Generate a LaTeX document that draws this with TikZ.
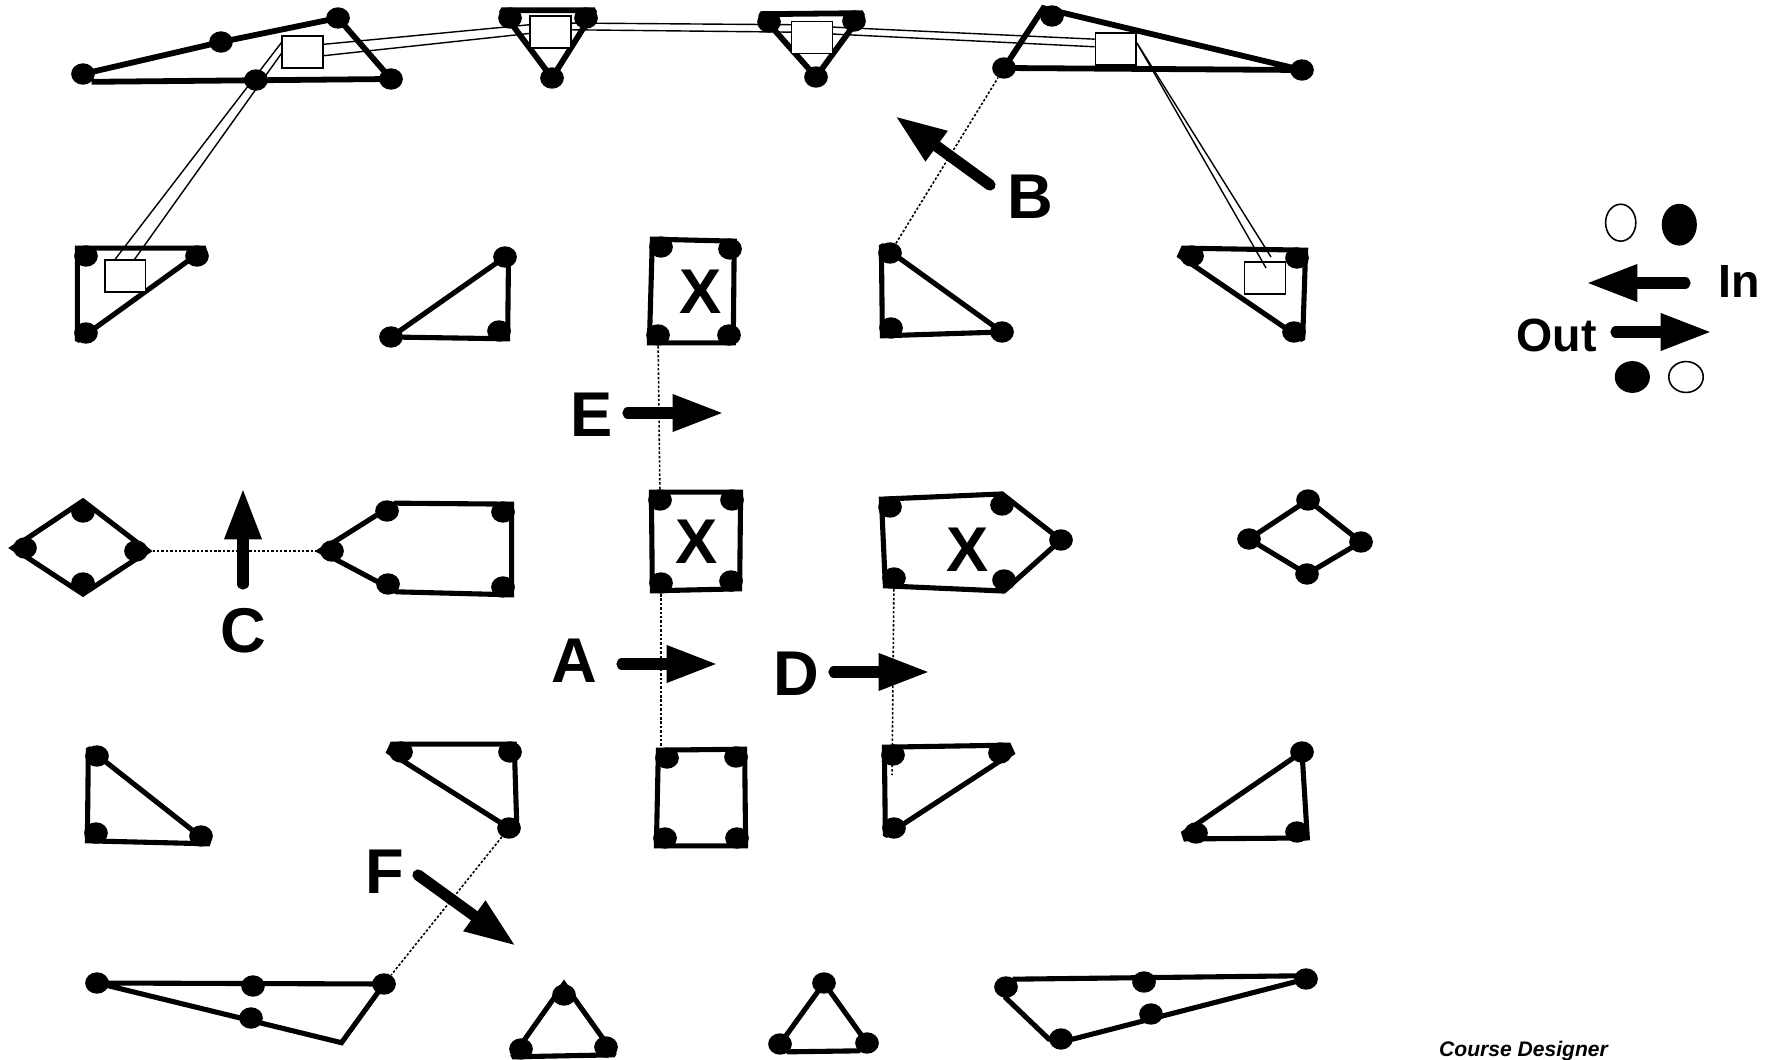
\documentclass[tikz,border=0pt]{standalone}
\usepackage{fontspec}
\setmainfont{Liberation Sans}
\usetikzlibrary{arrows.meta,shapes.geometric}
\tikzset{
	dot/.style = {ellipse, fill = black, inner sep = 0pt, minimum width = 13.5pt, minimum height = 12.2pt},
	edge/.style = {line width = 2.9pt, miter limit = 2},
	topedge/.style = {line width = 3.3pt, miter limit = 2},
	dashlink/.style = {line width = 0.9pt, dash pattern = on 1.4pt off 1.1pt},
	frame/.style = {draw, fill = white, line width = 0.8pt, inner sep = 0pt, minimum width = 23.2pt, minimum height = 18pt},
	rail/.style = {line width = 0.8pt},
	bigarrow/.style = {line width = 6.4pt, line cap = round, -{Triangle[length = 29.3pt, width = 19.6pt]}},
	bigtext/.style = {font = \fontsize{36}{36}\bfseries\selectfont, inner sep = 0pt},
	legtext/.style = {font = \fontsize{26.5}{27}\bfseries\selectfont, inner sep = 0pt},
	openmark/.style = {ellipse, draw, line width = 0.9pt, inner sep = 0pt},
	fullmark/.style = {ellipse, fill = black, inner sep = 0pt}
}
\begin{document}
\begin{tikzpicture}[x = 0.02cm, y = -0.02cm]
	\useasboundingbox (0,0) rectangle (1768,1060);
	\foreach \name/\px/\py in {
		taa/83/74, tab/221/42, tac/338/18, tad/391/79, tae/256/80,
		tba/510/18, tbb/586/18, tbc/552/78,
		tca/769/22, tcb/854/21, tcc/816/77,
		tda/1052/16, tdb/1302/70, tdc/1004/68,
		ua/86/256, ub/197/256, uc/86/333,
		va/505/257, vb/499/331, vc/391/337,
		qaa/661/247, qab/730/249, qac/658/335, qad/729/335,
		wa/890/253, wb/891/328, wc/1002/332,
		xa/1192/256, xb/1297/258, xc/1294/332,
		ra/25/548, rb/83/512, rc/136/551, rd/83/583,
		pa/332/551, pb/387/511, pc/503/512, pd/388/584, pe/503/587,
		qba/660/500, qbb/732/500, qbc/661/583, qbd/731/581,
		sa/890/507, sb/1002/505, sc/1061/540, sd/1004/580, se/894/578,
		ya/1308/500, yb/1249/539, yc/1361/542, yd/1307/574,
		ka/97/756, kb/96/833, kc/201/836,
		la/401/752, lb/510/752, lc/509/828,
		qca/667/758, qcb/736/757, qcc/665/838, qcd/737/838,
		ma/893/755, mb/1000/753, mc/894/828,
		na/1302/752, nb/1196/833, nc/1297/832,
		baa/97/983, bab/253/986, bac/384/984, bad/251/1018,
		bba/564/995, bbb/521/1049, bbc/606/1047,
		bca/824/983, bcb/780/1044, bcc/867/1043,
		bda/1006/987, bdb/1144/982, bdc/1306/979, bdd/1151/1014, bde/1061/1039}
		\node [dot] (\name) at (\px,\py) {};
	\coordinate (bakink) at (341.5,1042.7);
	\coordinate (sdrop) at (892,775);
	\draw [topedge] (taa.center) -- (tab.center) -- (tac.center) -- (tad.center) -- (taa.south east);
	\draw [topedge] (tba.north west) -- (tbb.north east) -- (tbc.center) -- cycle;
	\draw [topedge] (tca.north west) -- (tcb.north east) -- (tcc.center) -- cycle;
	\draw [topedge] (tda.north west) -- (tdb.center) -- (tdc.center) -- cycle;
	\draw [edge] (ua.north west) -- (ub.north east) -- (uc.south west) -- cycle;
	\draw [edge] (va.center) -- ([xshift = 2pt]va.center) -- (vb.south east) -- (vc.center) -- cycle;
	\draw [edge] (qaa.north west) -- ([xshift = -2.5pt]qab.north east) -- ([xshift = -2.5pt]qad.south east) -- (qac.south west) -- cycle;
	\draw [edge] (wa.north west) -- (wc.center) -- (wb.south west) -- cycle;
	\draw [edge] (xa.north west) -- (xb.north east) -- (xc.south east) -- (xa.west) -- cycle;
	\draw [edge] (ra.west) -- (rb.north) -- (rc.east) -- (rd.south) -- cycle;
	\draw [edge] (pa.west) -- (pb.north east) -- (pc.north east) -- (pe.south east) -- (pd.south east) -- cycle;
	\draw [edge] (qba.north west) -- (qbb.north east) -- (qbd.south east) -- (qbc.south west) -- cycle;
	\draw [edge] (sa.north west) -- (sb.north) -- (sc.center) -- (sd.east) -- (sd.south) -- (se.south west) -- cycle;
	\draw [edge] (yb.center) -- (ya.center) -- (yc.center) -- (yd.center) -- cycle;
	\draw [edge] (ka.north west) -- (kc.south east) -- (kb.south west) -- cycle;
	\draw [edge] (la.north west) -- ([xshift = -2.5pt]lb.north east) -- ([xshift = -2.5pt]lc.east) -- (lc.center) -- (la.west) -- cycle;
	\draw [edge] (qca.north west) -- (qcb.north east) -- (qcd.south east) -- (qcc.south west) -- cycle;
	\draw [edge] (ma.north west) -- (mb.north east) -- (mb.east) -- (mc.south west) -- cycle;
	\draw [edge] (na.center) -- (nc.-30) -- (nb.210) -- (nb.west) -- cycle;
	\draw [edge] (baa.center) -- (bac.center) -- (bakink) -- cycle;
	\draw [edge] (bba.north) -- (bbc.south east) -- (bbb.south west) -- cycle;
	\draw [edge] (bca.center) -- (bcc.center) -- (bcc.south west) -- (bcb.south east) -- (bcb.center) -- cycle;
	\draw [edge] (bda.north east) -- (bdc.165) -- (bdc.center) -- (bde.east) -- (bde.west) -- (bda.south) -- cycle;
	\draw [dashlink] (qac) -- (qba);
	\draw [dashlink] (qbc) -- (qbc |- qca);
	\draw [dashlink] (wa) -- (tdc);
	\draw [dashlink] (rc) -- (pa);
	\draw [dashlink] (se) -- (sdrop);
	\draw [dashlink] (lc) -- (bac);
	\node [frame] (boxa) at (302.5,52) {};
	\node [frame] (boxb) at (550.5,32) {};
	\node [frame] (boxc) at (812,37.4) {};
	\node [frame] (boxd) at (1115.8,49) {};
	\node [frame] (boxu) at (125.3,276) {};
	\node [frame] (boxx) at (1265,278) {};
	\coordinate (railtop) at (1271,257);
	\coordinate (railin) at (1266,268);
	\draw [rail] (boxa.20) -- (boxb.161);
	\draw [rail] (boxa.-10) -- (boxb.184);
	\draw [rail] (boxb.23) -- (boxc.149);
	\draw [rail] (boxb.6) -- (boxc.166);
	\draw [rail] (boxc.26) -- (boxd.155);
	\draw [rail] (boxc.9) -- (boxd.174);
	\draw [rail] (boxa.156) -- (boxu.122);
	\draw [rail] (boxa.184) -- (boxu.61);
	\draw [rail] (boxd.16) -- (railtop);
	\draw [rail] (boxd.16) -- (railin);
	\foreach \name/\xa/\ya/\xb/\yb in {
		arra/622/664/718/664, arrb/990/185/895/116, arrc/243/584/243/488,
		arrd/834/672/930/672, arre/628/413/724/413, arrf/418/875/516/946,
		arrin/1685/283/1586/283, arrout/1616/332/1712/332}{
		\coordinate (\name s) at (\xa,\ya);
		\coordinate (\name t) at (\xb,\yb);
		\draw [bigarrow] (\name s) -- (\name t);
	}
	\node [bigtext] (lbla) at (574.3,661) {A};
	\node [bigtext] (lblb) at (1030.7,197) {B};
	\node [bigtext] (lblc) at (243.6,631) {C};
	\node [bigtext] (lbld) at (796.7,674) {D};
	\node [bigtext] (lble) at (592,415) {E};
	\node [bigtext] (lblf) at (385,872) {F};
	\node [bigtext] (lblxa) at (700.7,291.7) {X};
	\node [bigtext] (lblxb) at (696.4,541.7) {X};
	\node [bigtext] (lblxc) at (967.5,549.3) {X};
	\node [legtext] (lblin) at (1739,281) {In};
	\node [legtext] (lblout) at (1556.8,335) {Out};
	\node [openmark, minimum width = 17.2pt, minimum height = 21pt] (markia) at (1620.7,222.7) {};
	\node [fullmark, minimum width = 20pt, minimum height = 23.8pt] (markib) at (1679.3,224.7) {};
	\node [fullmark, minimum width = 20pt, minimum height = 18.1pt] (markoa) at (1632.3,377) {};
	\node [openmark, minimum width = 19.6pt, minimum height = 17.6pt] (markob) at (1686,377) {};
	\node [font = \fontsize{12}{12}\bfseries\itshape\selectfont, inner sep = 0pt] (credit) at (1523.5,1051) {Course Designer};
\end{tikzpicture}
\end{document}
